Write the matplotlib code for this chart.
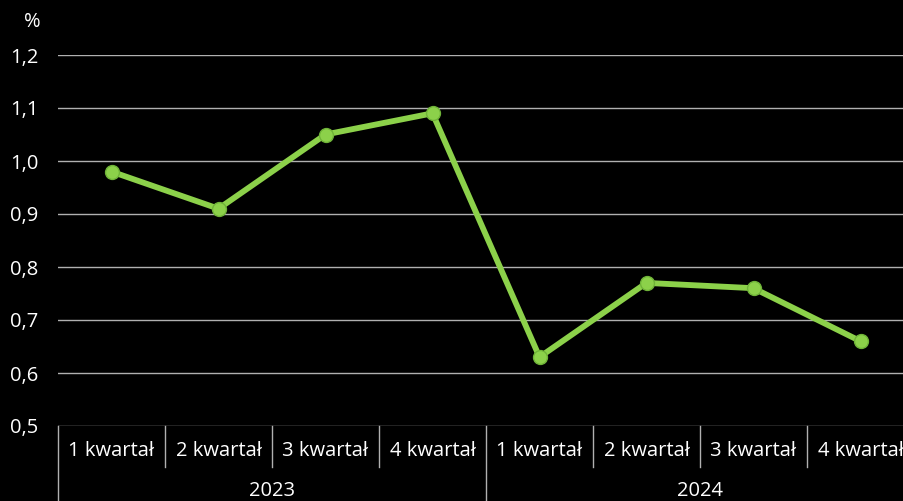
import matplotlib
matplotlib.use("Agg")
import matplotlib.pyplot as plt
from matplotlib.transforms import blended_transform_factory

quarters = ["1 kwartał", "2 kwartał", "3 kwartał", "4 kwartał",
            "1 kwartał", "2 kwartał", "3 kwartał", "4 kwartał"]
years = ["2023", "2024"]
values = [0.98, 0.91, 1.05, 1.09, 0.63, 0.77, 0.76, 0.66]
yticks = [0.5, 0.6, 0.7, 0.8, 0.9, 1.0, 1.1, 1.2]
ytick_labels = ["0,5", "0,6", "0,7", "0,8", "0,9", "1,0", "1,1", "1,2"]

plt.rcParams['font.family'] = ['Open Sans', 'DejaVu Sans']
FS = 14.5
W, H = 904, 501
fig = plt.figure(figsize=(W/100, H/100), dpi=100, facecolor='black')
left, right, top, bottom = 58, 914, 55, 426
ax = fig.add_axes([left/W, 1-bottom/H, (right-left)/W, (bottom-top)/H])
ax.set_facecolor('black')
for s in ax.spines.values():
    s.set_visible(False)

n = len(values)
xs = list(range(n))
ax.set_xlim(-0.5, n-0.5)
ax.set_ylim(0.5, 1.2)
for y in yticks:
    ax.axhline(y, color='#b0b0b0', lw=1.0, zorder=1)
ax.plot(xs, values, color='#8cd14a', lw=4.2, marker='o', ms=10,
        markerfacecolor='#8cd14a', markeredgecolor='#6fb338', markeredgewidth=1, zorder=3,
        clip_on=False)
ax.set_yticks(yticks)
ax.set_yticklabels(ytick_labels, color='white', fontsize=FS)
ax.tick_params(axis='y', length=0, pad=14)
ax.set_xticks([])

def fy(p):
    return 1 - p/H
fig.text(32/W, fy(22), "%", color='white', fontsize=FS, ha='center', va='center')

tr = blended_transform_factory(ax.transData, fig.transFigure)
for i, q in enumerate(quarters):
    ax.text(i, fy(451), q, transform=tr, color='white', fontsize=FS,
            ha='center', va='center', clip_on=False)
for i in range(n+1):
    xb = i - 0.5
    y0 = fy(H+2) if i % 4 == 0 else fy(467)
    ax.plot([xb, xb], [fy(426), y0], transform=tr, color='#b0b0b0', lw=1.0, clip_on=False)
for j, yr in enumerate(years):
    ax.text(j*4 + 1.5, fy(491), yr, transform=tr, color='white', fontsize=FS,
            ha='center', va='center', clip_on=False)

fig.savefig("out.png", dpi=100, facecolor='black')
